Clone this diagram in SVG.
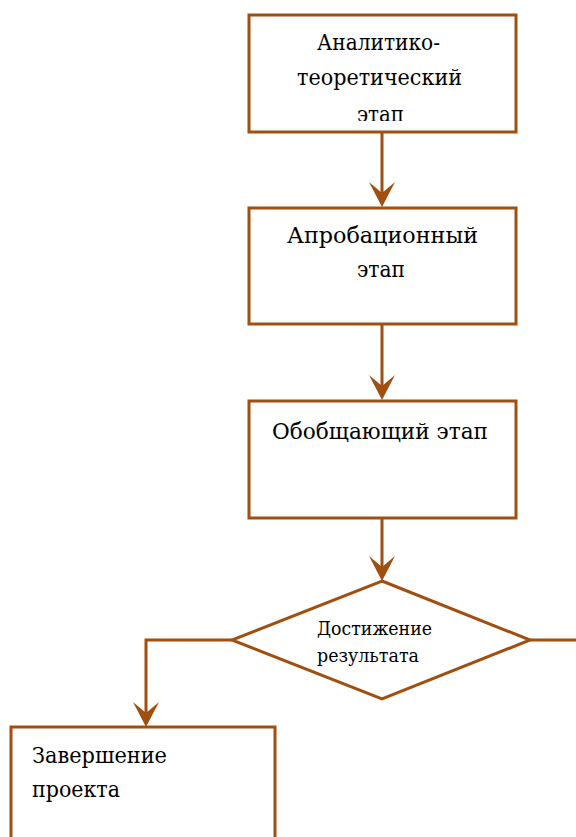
<svg xmlns="http://www.w3.org/2000/svg" width="576" height="837" viewBox="0 0 576 837">
<style>
.n{fill:#fff;stroke:#A04F10;stroke-width:3}
.c{fill:none;stroke:#A04F10;stroke-width:3}
.t{font-family:"DejaVu Serif","Liberation Serif",serif;font-size:22px;fill:#000}
.s{font-family:"DejaVu Serif","Liberation Serif",serif;font-size:19px;fill:#000}
</style>
<defs>
<path id="arr" d="M-13,-25 L0,0 L13,-25 L0,-14 Z" fill="#A04F10"/>
<clipPath id="cl1"><rect x="249" y="15" width="268" height="106"/></clipPath>
</defs>
<g id="connectors">
<line class="c" x1="382" y1="132" x2="382" y2="200"/>
<use href="#arr" x="382" y="207"/>
<line class="c" x1="382" y1="324" x2="382" y2="393"/>
<use href="#arr" x="382" y="400"/>
<line class="c" x1="382" y1="518" x2="382" y2="574"/>
<use href="#arr" x="382" y="581"/>
<polyline class="c" points="232,640 146,640 146,720"/>
<use href="#arr" x="146" y="727"/>
<line class="c" x1="530" y1="640" x2="576" y2="640"/>
</g>
<g id="n1">
<rect class="n" x="249" y="15" width="267" height="117"/>
<g clip-path="url(#cl1)">
<text class="t" x="317" y="50" textLength="123" lengthAdjust="spacingAndGlyphs">Аналитико-</text>
<text class="t" x="297" y="85" textLength="165" lengthAdjust="spacingAndGlyphs">теоретический</text>
<text class="t" x="357" y="122" textLength="47" lengthAdjust="spacingAndGlyphs">этап</text>
</g>
</g>
<g id="n2">
<rect class="n" x="249" y="208" width="267" height="116"/>
<text class="t" x="287" y="243" textLength="191" lengthAdjust="spacingAndGlyphs">Апробационный</text>
<text class="t" x="357" y="277" textLength="48" lengthAdjust="spacingAndGlyphs">этап</text>
</g>
<g id="n3">
<rect class="n" x="249" y="401" width="267" height="117"/>
<text class="t" x="272" y="439" textLength="216" lengthAdjust="spacingAndGlyphs">Обобщающий этап</text>
</g>
<g id="n4">
<polygon class="n" points="382,581 530,640 382,699 232,640"/>
<text class="s" x="317" y="635" textLength="115" lengthAdjust="spacingAndGlyphs">Достижение</text>
<text class="s" x="317" y="662" textLength="102" lengthAdjust="spacingAndGlyphs">результата</text>
</g>
<g id="n5">
<rect class="n" x="11" y="727" width="264" height="130"/>
<text class="t" x="32" y="763" textLength="135" lengthAdjust="spacingAndGlyphs">Завершение</text>
<text class="t" x="32" y="797" textLength="88" lengthAdjust="spacingAndGlyphs">проекта</text>
</g>
</svg>
